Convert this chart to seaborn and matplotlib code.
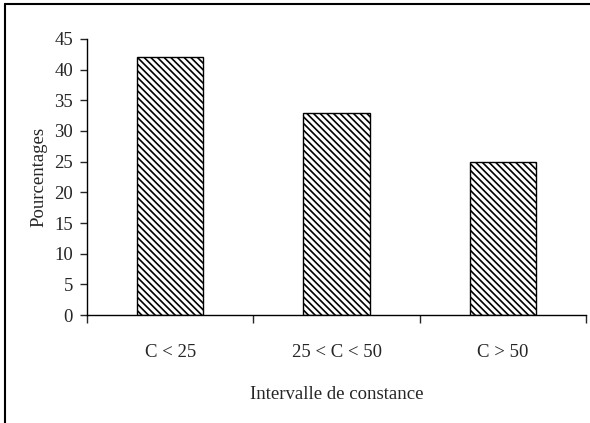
import matplotlib
matplotlib.use("Agg")
import matplotlib.pyplot as plt
import seaborn as sns
import pandas as pd
from matplotlib.lines import Line2D

# Data
categories = ["C < 25", "25 < C < 50", "C > 50"]
percentages = [42, 33, 25]
y_ticks = [0, 5, 10, 15, 20, 25, 30, 35, 40, 45]

sns.set_style("white")
plt.rcParams["font.family"] = ["Liberation Serif", "DejaVu Serif"]
plt.rcParams["hatch.color"] = "#4a4a4a"
plt.rcParams["hatch.linewidth"] = 1.2

df = pd.DataFrame({"interval": categories, "pct": percentages})

fig = plt.figure(figsize=(5.9, 4.23), dpi=100)
ax = fig.add_axes([87 / 590, 1 - 315 / 423, (586 - 87) / 590, (315 - 39) / 423])

sns.barplot(data=df, x="interval", y="pct", ax=ax, color="white",
            edgecolor="black", linewidth=1.0, width=0.4, saturation=1)
for patch in ax.patches:
    patch.set_hatch("\\" * 5)

ax.set_xlim(-0.5, len(categories) - 0.5)
ax.set_ylim(0, 45)
ax.set_yticks(y_ticks)
ax.set_xticks(range(len(categories)))
ax.set_xticklabels(categories)
ax.set_xticks([i - 0.5 for i in range(len(categories) + 1)], minor=True)
ax.tick_params(axis="x", which="major", length=0, pad=21, labelsize=13.5)
ax.tick_params(axis="x", which="minor", length=6, width=1, direction="out", bottom=True)
ax.tick_params(axis="y", length=5, width=1, direction="out", left=True, labelsize=13.5, pad=5)

for side in ["top", "right"]:
    ax.spines[side].set_visible(False)
for side in ["left", "bottom"]:
    ax.spines[side].set_color("black")
    ax.spines[side].set_linewidth(1.0)

ax.set_xlabel("Intervalle de constance", fontsize=13.5, labelpad=18)
ax.set_ylabel("Pourcentages", fontsize=13.5, labelpad=5)

# Frame around the chart area (left and top edges)
fig.add_artist(Line2D([4.5 / 590, 4.5 / 590], [0, 1 - 4.5 / 423],
                      transform=fig.transFigure, color="black", linewidth=1.5))
fig.add_artist(Line2D([4.5 / 590, 1], [1 - 4.5 / 423, 1 - 4.5 / 423],
                      transform=fig.transFigure, color="black", linewidth=1.5))

fig.savefig("out.png", dpi=100)
